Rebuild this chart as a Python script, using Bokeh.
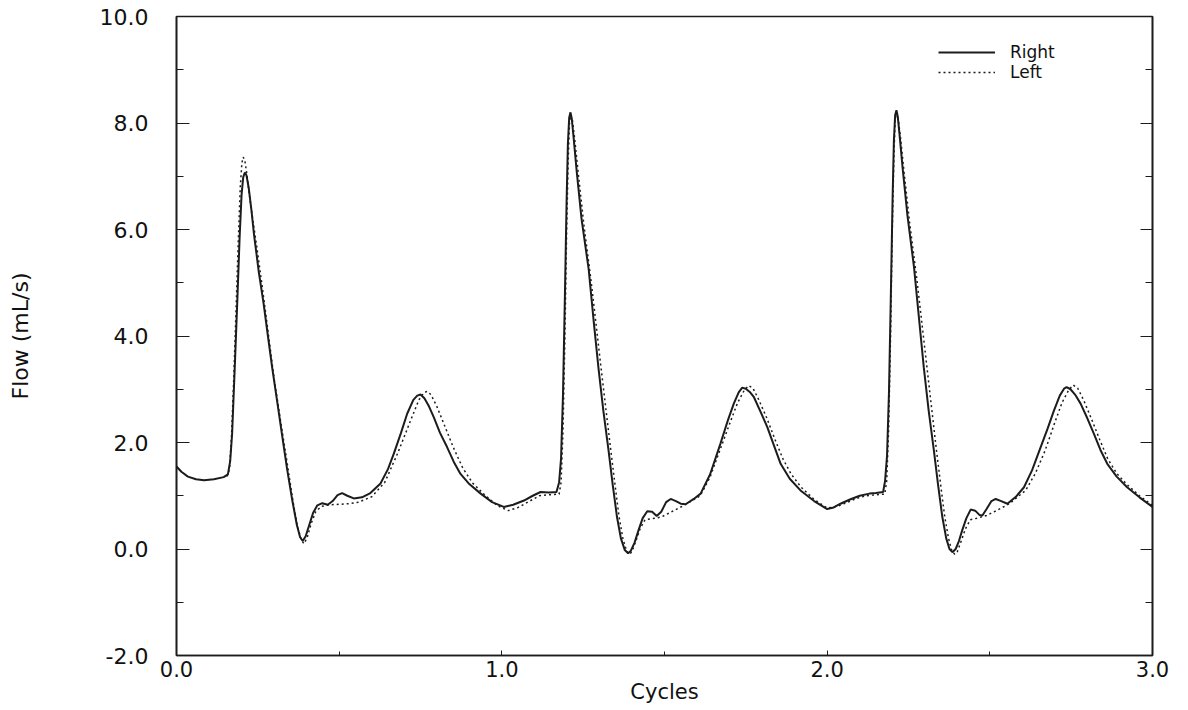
import math
from bokeh.plotting import figure
from bokeh.models import (Range1d, LinearAxis, FixedTicker, PrintfTickFormatter,
                          Legend, LegendItem)
from bokeh.embed import file_html
from bokeh.resources import INLINE

# ---------------- data ----------------
right_x = [0.000, 0.015, 0.035, 0.060, 0.085, 0.115, 0.145, 0.158, 0.165, 0.171,
           0.179, 0.187, 0.194, 0.200, 0.205, 0.210, 0.215, 0.222, 0.230, 0.238,
           0.253, 0.268, 0.281, 0.294, 0.310, 0.325, 0.340, 0.356, 0.370, 0.380,
           0.388, 0.397, 0.408, 0.420, 0.433, 0.448, 0.465, 0.480, 0.495, 0.509,
           0.525, 0.545, 0.570, 0.596, 0.627, 0.650, 0.668, 0.690, 0.709, 0.728,
           0.740, 0.750, 0.762, 0.776, 0.791, 0.810, 0.832, 0.852, 0.873, 0.900,
           0.935, 0.970, 1.006, 1.035, 1.068, 1.095, 1.119, 1.145, 1.168, 1.176,
           1.182, 1.188, 1.194, 1.199, 1.203, 1.207, 1.211, 1.215, 1.221, 1.230,
           1.245, 1.267, 1.282, 1.297, 1.312, 1.328, 1.341, 1.354, 1.366, 1.378,
           1.388, 1.396, 1.408, 1.420, 1.433, 1.447, 1.462, 1.476, 1.490, 1.505,
           1.519, 1.535, 1.550, 1.565, 1.590, 1.611, 1.640, 1.672, 1.695, 1.713,
           1.728, 1.739, 1.750, 1.762, 1.775, 1.795, 1.816, 1.836, 1.857, 1.885,
           1.918, 1.960, 2.000, 2.020, 2.041, 2.070, 2.100, 2.130, 2.150, 2.172,
           2.178, 2.184, 2.190, 2.196, 2.201, 2.205, 2.209, 2.213, 2.217, 2.223,
           2.232, 2.247, 2.267, 2.282, 2.297, 2.312, 2.328, 2.341, 2.354, 2.366,
           2.376, 2.385, 2.395, 2.405, 2.415, 2.428, 2.441, 2.455, 2.468, 2.477,
           2.490, 2.505, 2.518, 2.535, 2.554, 2.580, 2.605, 2.630, 2.656, 2.677,
           2.697, 2.715, 2.728, 2.736, 2.748, 2.762, 2.779, 2.800, 2.820, 2.840,
           2.861, 2.890, 2.922, 2.960, 3.000]
right_y = [1.55, 1.45, 1.36, 1.31, 1.29, 1.31, 1.35, 1.40, 1.65, 2.17,
           3.40, 4.67, 5.85, 6.65, 6.98, 7.07, 7.02, 6.78, 6.38, 5.92,
           5.20, 4.60, 4.00, 3.41, 2.75, 2.12, 1.50, 0.91, 0.45, 0.22,
           0.15, 0.24, 0.45, 0.68, 0.82, 0.86, 0.83, 0.90, 1.01, 1.05,
           1.00, 0.95, 0.97, 1.05, 1.23, 1.50, 1.79, 2.18, 2.54, 2.80,
           2.88, 2.90, 2.83, 2.68, 2.47, 2.18, 1.91, 1.64, 1.41, 1.22,
           1.04, 0.88, 0.79, 0.83, 0.91, 1.00, 1.07, 1.06, 1.07, 1.25,
           1.70, 2.90, 4.80, 6.50, 7.60, 8.10, 8.20, 8.08, 7.70, 7.10,
           6.20, 5.25, 4.30, 3.40, 2.60, 1.85, 1.20, 0.60, 0.20, -0.02,
           -0.08, -0.04, 0.12, 0.35, 0.58, 0.71, 0.70, 0.62, 0.70, 0.88,
           0.94, 0.90, 0.85, 0.84, 0.94, 1.04, 1.40, 1.98, 2.42, 2.73,
           2.94, 3.03, 3.01, 2.95, 2.85, 2.58, 2.29, 1.95, 1.60, 1.32,
           1.10, 0.90, 0.75, 0.78, 0.85, 0.93, 1.00, 1.04, 1.05, 1.07,
           1.28, 1.75, 2.95, 4.85, 6.55, 7.65, 8.15, 8.24, 8.12, 7.75,
           7.15, 6.25, 5.29, 4.35, 3.41, 2.60, 1.85, 1.20, 0.60, 0.20,
           0.00, -0.06, 0.00, 0.15, 0.35, 0.58, 0.74, 0.72, 0.64, 0.63,
           0.75, 0.90, 0.94, 0.90, 0.85, 0.98, 1.16, 1.48, 1.91, 2.25,
           2.60, 2.88, 3.01, 3.04, 3.00, 2.90, 2.73, 2.45, 2.16, 1.86,
           1.60, 1.36, 1.16, 0.97, 0.79]

left_x = [0.155, 0.163, 0.169, 0.176, 0.183, 0.190, 0.196, 0.201, 0.205, 0.210,
          0.216, 0.224, 0.233, 0.245, 0.262, 0.280, 0.300, 0.320, 0.340, 0.358,
          0.372, 0.384, 0.392, 0.402, 0.414, 0.428, 0.445, 0.470, 0.500, 0.530,
          0.560, 0.600, 0.640, 0.680, 0.720, 0.745, 0.760, 0.770, 0.782, 0.800,
          0.820, 0.850, 0.880, 0.910, 0.950, 0.985, 1.020, 1.050, 1.080, 1.115,
          1.150, 1.176, 1.182, 1.188, 1.194, 1.199, 1.204, 1.208, 1.212, 1.217,
          1.224, 1.235, 1.252, 1.275, 1.290, 1.305, 1.320, 1.335, 1.348, 1.360,
          1.372, 1.383, 1.392, 1.400, 1.412, 1.425, 1.440, 1.462, 1.490, 1.519,
          1.560, 1.610, 1.640, 1.670, 1.700, 1.725, 1.745, 1.759, 1.772, 1.790,
          1.815, 1.840, 1.865, 1.890, 1.920, 1.960, 2.000, 2.030, 2.060, 2.090,
          2.120, 2.150, 2.177, 2.183, 2.189, 2.195, 2.200, 2.205, 2.209, 2.213,
          2.218, 2.225, 2.236, 2.253, 2.276, 2.291, 2.306, 2.321, 2.336, 2.349,
          2.361, 2.373, 2.383, 2.392, 2.400, 2.412, 2.425, 2.440, 2.462, 2.490,
          2.520, 2.560, 2.610, 2.640, 2.670, 2.700, 2.722, 2.742, 2.756, 2.770,
          2.788, 2.812, 2.838, 2.862, 2.890, 2.920, 2.960, 3.000]
left_y = [1.36, 1.50, 2.10, 3.20, 4.50, 5.80, 6.80, 7.25, 7.36, 7.30,
          7.05, 6.65, 6.25, 5.75, 5.00, 4.15, 3.20, 2.40, 1.62, 0.90,
          0.42, 0.16, 0.10, 0.22, 0.48, 0.70, 0.80, 0.83, 0.84, 0.85,
          0.88, 0.98, 1.25, 1.80, 2.42, 2.80, 2.93, 2.96, 2.90, 2.68,
          2.38, 1.92, 1.52, 1.24, 1.00, 0.82, 0.72, 0.78, 0.88, 1.00,
          1.02, 1.03, 1.25, 2.20, 4.00, 5.90, 7.30, 8.00, 8.15, 8.05,
          7.70, 7.05, 6.10, 5.00, 4.20, 3.40, 2.62, 1.85, 1.20, 0.62,
          0.20, -0.03, -0.10, -0.05, 0.15, 0.38, 0.55, 0.57, 0.60, 0.69,
          0.82, 1.00, 1.35, 1.85, 2.35, 2.75, 2.98, 3.07, 3.02, 2.80,
          2.45, 2.05, 1.68, 1.40, 1.16, 0.93, 0.77, 0.80, 0.87, 0.95,
          1.00, 1.02, 1.03, 1.28, 2.25, 4.05, 5.95, 7.35, 8.05, 8.20,
          8.10, 7.75, 7.10, 6.15, 5.05, 4.25, 3.45, 2.65, 1.85, 1.20,
          0.62, 0.20, -0.03, -0.10, -0.05, 0.15, 0.38, 0.55, 0.58, 0.63,
          0.72, 0.85, 1.10, 1.42, 1.85, 2.38, 2.75, 2.98, 3.08, 3.02,
          2.80, 2.45, 2.05, 1.70, 1.42, 1.22, 1.00, 0.82]

x_ticks = [0.0, 1.0, 2.0, 3.0]
x_minor = [0.5, 1.5, 2.5]
y_ticks = [-2.0, 0.0, 2.0, 4.0, 6.0, 8.0, 10.0]
y_minor = [-1.0, 1.0, 3.0, 5.0, 7.0, 9.0]
series_names = ["Right", "Left"]
x_title = "Cycles"
y_title = "Flow (mL/s)"

INK = "#1c1c1c"
FONT = "DejaVu Sans"

p = figure(width=1180, height=708, x_range=Range1d(0, 3), y_range=Range1d(-2, 10),
           output_backend="svg", toolbar_location=None,
           min_border_left=176, min_border_right=28, min_border_top=16,
           min_border_bottom=53, background_fill_color="white",
           border_fill_color="white")
p.grid.visible = False
p.outline_line_color = INK
p.outline_line_width = 1.6

for ax in (p.xaxis[0], p.yaxis[0]):
    ax.axis_line_color = INK
    ax.axis_line_width = 1.6
    ax.major_tick_line_color = INK
    ax.minor_tick_line_color = INK
    ax.major_tick_out = 0
    ax.minor_tick_out = 0
    ax.major_label_text_font = FONT
    ax.major_label_text_color = "#111111"
    ax.formatter = PrintfTickFormatter(format="%.1f")
    ax.axis_label_text_font = FONT
    ax.axis_label_text_font_style = "normal"
    ax.axis_label_text_color = "#111111"

p.xaxis.ticker = FixedTicker(ticks=x_ticks, minor_ticks=x_minor)
p.xaxis.major_tick_in = 5
p.xaxis.minor_tick_in = 4
p.xaxis.major_label_standoff = 5
p.xaxis.major_label_text_font_size = "21px"
p.xaxis.axis_label = x_title
p.xaxis.axis_label_standoff = 0
p.xaxis.axis_label_text_font_size = "21px"

p.yaxis.ticker = FixedTicker(ticks=y_ticks, minor_ticks=y_minor)
p.yaxis.major_tick_in = 13
p.yaxis.minor_tick_in = 7
p.yaxis.major_label_standoff = 28
p.yaxis.major_label_text_font_size = "22px"
p.yaxis.axis_label = y_title
p.yaxis.axis_label_standoff = 64
p.yaxis.axis_label_text_font_size = "22px"

ry = LinearAxis(ticker=FixedTicker(ticks=y_ticks, minor_ticks=y_minor),
                axis_line_color=INK, axis_line_width=1.6,
                major_tick_in=12, major_tick_out=0, minor_tick_in=7, minor_tick_out=0,
                major_tick_line_color=INK, minor_tick_line_color=INK,
                major_label_text_font_size="0px", major_label_standoff=0,
                major_label_overrides={t: "" for t in y_ticks})
p.add_layout(ry, "right")

r1 = p.line(right_x, right_y, line_color=INK, line_width=2.0)
r2 = p.line(left_x, left_y, line_color=INK, line_width=1.5, line_dash="2 3")

legend = Legend(items=[LegendItem(label=series_names[0], renderers=[r1]),
                       LegendItem(label=series_names[1], renderers=[r2])],
                location=(762, 573), glyph_width=57, glyph_height=16,
                label_height=16, label_standoff=15, spacing=0, padding=0, margin=0,
                border_line_color=None, background_fill_alpha=0,
                label_text_font=FONT, label_text_font_size="17px",
                label_text_color="#111111")
p.add_layout(legend)

open("out.html", "w").write(file_html(p, INLINE))
